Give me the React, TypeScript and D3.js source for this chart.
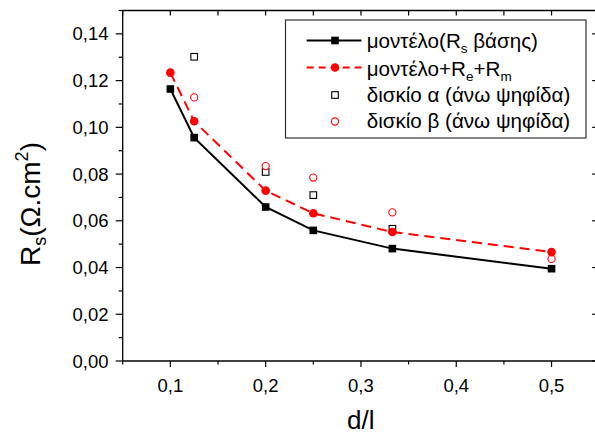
import React from "react";
import * as d3 from "d3";

// d/l ratios and resistance values (Ω·cm²)
const modelX = [0.1, 0.125, 0.2, 0.25, 0.333, 0.5];
const modelBase = [0.1164, 0.0956, 0.0659, 0.0559, 0.0481, 0.0395];
const modelTotal = [0.1234, 0.1026, 0.0729, 0.0632, 0.0552, 0.0466];
const diskAX = [0.125, 0.2, 0.25, 0.333];
const diskA = [0.1302, 0.0809, 0.071, 0.0566];
const diskBX = [0.125, 0.2, 0.25, 0.333, 0.5];
const diskB = [0.1128, 0.0834, 0.0785, 0.0636, 0.0437];

const xMajor = [0.1, 0.2, 0.3, 0.4, 0.5];
const xMinor = [0.05, 0.15, 0.25, 0.35, 0.45, 0.55];
const yMajor = [0, 0.02, 0.04, 0.06, 0.08, 0.1, 0.12, 0.14];
const yMinor = [0.01, 0.03, 0.05, 0.07, 0.09, 0.11, 0.13, 0.15];

const W = 595;
const H = 434;
const left = 122.7;
const right = 599.2;
const top = 10.5;
const bottom = 361;

const FONT = "'Liberation Sans', Arial, sans-serif";
const RED = "#ff0000";

const fmt = (v: number, d: number) => v.toFixed(d).replace(".", ",");

export default function App() {
  const x = d3.scaleLinear().domain([0.05, 0.55]).range([left, right]);
  const y = d3.scaleLinear().domain([0, 0.15]).range([bottom, top]);

  const line = d3
    .line<[number, number]>()
    .x((d) => x(d[0]))
    .y((d) => y(d[1]));

  const basePts = modelX.map((v, i) => [v, modelBase[i]] as [number, number]);
  const totalPts = modelX.map((v, i) => [v, modelTotal[i]] as [number, number]);

  const lx0 = 306.7;
  const lx1 = 361.5;
  const lmx = 335;
  const ltx = 366.7;
  const rows = [40.5, 67.5, 95, 121.5];

  return (
    <svg
      width={W}
      height={H}
      style={{ position: "absolute", left: 0, top: 0, background: "#fff" }}
      fontFamily={FONT}
    >
      <rect width={W} height={H} fill="#fff" />

      {/* frame */}
      <g stroke="#000" strokeWidth={1.3} fill="none">
        <line x1={left} x2={right} y1={bottom} y2={bottom} />
        <line x1={left} x2={right} y1={top} y2={top} />
        <line x1={left} x2={left} y1={top} y2={bottom} />
        <line x1={right} x2={right} y1={top} y2={bottom} />
      </g>

      {/* x ticks: outward on bottom, inward on top */}
      <g stroke="#000" strokeWidth={1.2}>
        {xMajor.map((v) => (
          <g key={"xM" + v}>
            <line x1={x(v)} x2={x(v)} y1={bottom} y2={bottom + 6} />
            <line x1={x(v)} x2={x(v)} y1={top} y2={top + 5} />
          </g>
        ))}
        {xMinor.map((v) => (
          <g key={"xm" + v}>
            <line x1={x(v)} x2={x(v)} y1={bottom} y2={bottom + 3.5} />
            <line x1={x(v)} x2={x(v)} y1={top} y2={top + 5} />
          </g>
        ))}
        {yMajor.map((v) => (
          <g key={"yM" + v}>
            <line x1={left - 7} x2={left} y1={y(v)} y2={y(v)} />
            <line x1={right - 7} x2={right} y1={y(v)} y2={y(v)} />
          </g>
        ))}
        {yMinor.map((v) => (
          <g key={"ym" + v}>
            <line x1={left - 4} x2={left} y1={y(v)} y2={y(v)} />
            <line x1={right - 4} x2={right} y1={y(v)} y2={y(v)} />
          </g>
        ))}
      </g>

      {/* tick labels */}
      <g fontSize={18.5} fill="#000">
        {xMajor.map((v) => (
          <text key={"xl" + v} x={x(v)} y={391.5} textAnchor="middle">
            {fmt(v, 1)}
          </text>
        ))}
        {yMajor.map((v) => (
          <text key={"yl" + v} x={108.5} y={y(v) + 6.5} textAnchor="end">
            {fmt(v, 2)}
          </text>
        ))}
      </g>

      {/* axis titles */}
      <text x={360.7} y={429} textAnchor="middle" fontSize={26} fill="#000">
        d/l
      </text>
      <text
        transform="translate(39.5,204) rotate(-90)"
        textAnchor="middle"
        fontSize={28}
        fill="#000"
      >
        R
        <tspan fontSize={18} dy={6}>
          s
        </tspan>
        <tspan dy={-6}>(Ω.cm</tspan>
        <tspan fontSize={18} dy={-12}>
          2
        </tspan>
        <tspan dy={12}>)</tspan>
      </text>

      {/* model curves */}
      <path d={line(totalPts) ?? ""} fill="none" stroke={RED} strokeWidth={2} strokeDasharray="10,6" />
      <path d={line(basePts) ?? ""} fill="none" stroke="#000" strokeWidth={2} />

      {/* measured points */}
      {diskAX.map((v, i) => (
        <rect
          key={"a" + i}
          x={x(v) - 3.3}
          y={y(diskA[i]) - 3.3}
          width={6.6}
          height={6.6}
          fill="#fff"
          stroke="#000"
          strokeWidth={1.1}
        />
      ))}
      {diskBX.map((v, i) => (
        <circle
          key={"b" + i}
          cx={x(v)}
          cy={y(diskB[i])}
          r={3.6}
          fill="#fff"
          stroke={RED}
          strokeWidth={1.1}
        />
      ))}
      {totalPts.map((d, i) => (
        <circle key={"t" + i} cx={x(d[0])} cy={y(d[1])} r={4.3} fill={RED} />
      ))}
      {basePts.map((d, i) => (
        <rect key={"s" + i} x={x(d[0]) - 3.8} y={y(d[1]) - 3.8} width={7.6} height={7.6} fill="#000" />
      ))}

      {/* legend */}
      <rect x={285.5} y={20} width={300.5} height={118} fill="#fff" stroke="#333" strokeWidth={1.2} />
      <line x1={lx0} x2={lx1} y1={rows[0]} y2={rows[0]} stroke="#000" strokeWidth={2} />
      <rect x={lmx - 3.8} y={rows[0] - 3.8} width={7.6} height={7.6} fill="#000" />
      <line x1={lx0} x2={lx1} y1={rows[1]} y2={rows[1]} stroke={RED} strokeWidth={2} strokeDasharray="7,5" />
      <circle cx={lmx} cy={rows[1]} r={4.3} fill={RED} />
      <rect x={lmx - 3.3} y={rows[2] - 3.3} width={6.6} height={6.6} fill="#fff" stroke="#000" strokeWidth={1.1} />
      <circle cx={lmx} cy={rows[3]} r={3.6} fill="#fff" stroke={RED} strokeWidth={1.1} />

      <g fontSize={20.6} fill="#000">
        <text x={ltx} y={48}>
          μοντέλο(R
          <tspan fontSize={13.5} dy={5}>
            s
          </tspan>
          <tspan dy={-5}> βάσης)</tspan>
        </text>
        <text x={ltx} y={75.5}>
          μοντέλο+R
          <tspan fontSize={13.5} dy={5}>
            e
          </tspan>
          <tspan dy={-5}>+R</tspan>
          <tspan fontSize={13.5} dy={5}>
            m
          </tspan>
        </text>
        <text x={ltx} y={102}>
          δισκίο α (άνω ψηφίδα)
        </text>
        <text x={ltx} y={128}>
          δισκίο β (άνω ψηφίδα)
        </text>
      </g>
    </svg>
  );
}
